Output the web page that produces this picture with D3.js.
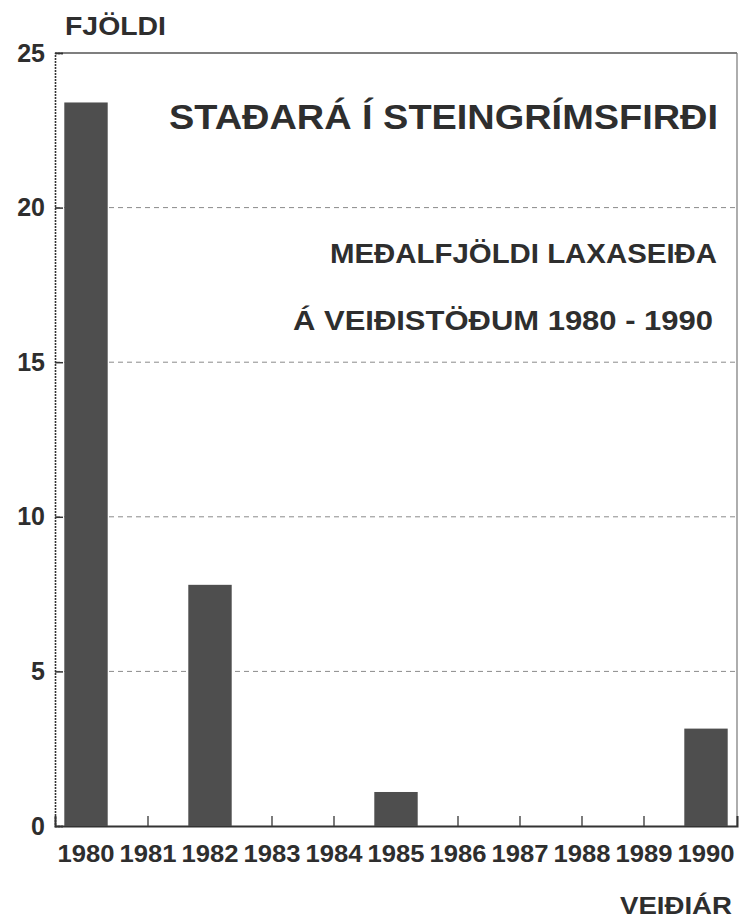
<!DOCTYPE html>
<html>
<head>
<meta charset="utf-8">
<script src="https://cdn.jsdelivr.net/npm/d3@7"></script>
<style>
  html, body { margin: 0; padding: 0; background: #ffffff; }
  svg { display: block; }
  text { font-family: "Liberation Sans", Arial, sans-serif; fill: #2e2e2e; }
</style>
</head>
<body>
<svg id="chart" width="740" height="921"></svg>
<script>
// ---- data ----
const years = ["1980","1981","1982","1983","1984","1985","1986","1987","1988","1989","1990"];
const values = [23.4, 0, 7.8, 0, 0, 1.1, 0, 0, 0, 0, 3.15];
const yTicks = [0, 5, 10, 15, 20, 25];
const title = "STAÐARÁ Í STEINGRÍMSFIRÐI";
const subtitle1 = "MEÐALFJÖLDI LAXASEIÐA";
const subtitle2 = "Á VEIÐISTÖÐUM 1980 - 1990";
const yLabel = "FJÖLDI";
const xLabel = "VEIÐIÁR";

// ---- layout ----
const W = 740, H = 921;
const m = { top: 53, right: 3, bottom: 95, left: 55 };
const svg = d3.select("#chart");

const x = d3.scaleBand().domain(years).range([m.left, W - m.right])
  .paddingInner(0.3).paddingOuter(0.15);
const y = d3.scaleLinear().domain([0, 25]).range([H - m.bottom, m.top]);

// gridlines
svg.append("g").selectAll("line").data(yTicks.filter(t => t > 0 && t < 25)).join("line")
  .attr("x1", m.left).attr("x2", W - m.right)
  .attr("y1", d => y(d)).attr("y2", d => y(d))
  .attr("stroke", "#8a8a8a").attr("stroke-width", 1).attr("stroke-dasharray", "5,4");

// frame: top and right
svg.append("line").attr("x1", m.left).attr("x2", W - m.right)
  .attr("y1", y(25)).attr("y2", y(25)).attr("stroke", "#555").attr("stroke-width", 1.5);
svg.append("line").attr("x1", W - m.right).attr("x2", W - m.right)
  .attr("y1", y(25)).attr("y2", y(0)).attr("stroke", "#777").attr("stroke-width", 1.2);

// y axis
const yAxis = d3.axisLeft(y).tickValues(yTicks).tickSize(-8).tickPadding(10).tickFormat(d3.format("d"));
const gy = svg.append("g").attr("transform", `translate(${m.left},0)`).call(yAxis);
gy.select(".domain").attr("stroke", "#333").attr("stroke-width", 1.6).attr("stroke-dasharray", "2,1");
gy.selectAll(".tick line").attr("stroke", "#333").attr("stroke-width", 1.5);
gy.selectAll(".tick text").style("font-size", "25px").style("font-weight", "bold")
  .attr("fill", "#2e2e2e").attr("font-family", null);

// x axis
const xAxis = d3.axisBottom(x).tickSize(-10).tickPadding(19);
const gx = svg.append("g").attr("transform", `translate(0,${y(0)})`).call(xAxis);
gx.select(".domain").attr("stroke", "#333").attr("stroke-width", 2);
gx.selectAll(".tick line").attr("stroke", "#444").attr("stroke-width", 1.4);
gx.selectAll(".tick text").style("font-size", "24px").style("font-weight", "bold")
  .attr("fill", "#2e2e2e").attr("font-family", null).attr("textLength", 57).attr("lengthAdjust", "spacingAndGlyphs");

// bars (drawn over x ticks)
svg.append("g").selectAll("rect").data(years.map((yr, i) => ({ yr, v: values[i] })).filter(d => d.v > 0))
  .join("rect")
  .attr("x", d => x(d.yr)).attr("width", x.bandwidth())
  .attr("y", d => y(d.v)).attr("height", d => y(0) - y(d.v))
  .attr("fill", "#4e4e4e");

// texts
function txt(s, xx, yy, size, len) {
  svg.append("text").text(s).attr("x", xx).attr("y", yy)
    .style("font-size", size + "px").style("font-weight", "bold")
    .attr("textLength", len).attr("lengthAdjust", "spacingAndGlyphs");
}
txt(yLabel, 65, 35, 26, 101);
txt(title, 169, 129, 35, 549);
txt(subtitle1, 330, 263, 27, 387);
txt(subtitle2, 293, 330, 27, 420);
txt(xLabel, 620, 914, 24, 112);
</script>
</body>
</html>
